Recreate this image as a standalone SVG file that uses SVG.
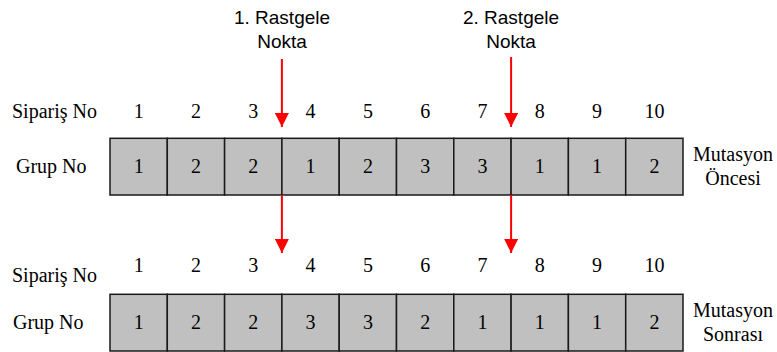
<svg xmlns="http://www.w3.org/2000/svg" width="777" height="352" viewBox="0 0 777 352">
  <style>
    .cell { fill: #c0c0c0; stroke: #1a1a1a; stroke-width: 1.5; }
    .serif { font-family: "Liberation Serif", "Times New Roman", serif; font-size: 20px; fill: #000; }
    .num { text-anchor: middle; }
    .sans { font-family: "Liberation Sans", Arial, sans-serif; font-size: 19px; fill: #000; text-anchor: middle; }
    .arrow { stroke: #ff0000; stroke-width: 2; fill: none; }
  </style>
  <defs>
    <marker id="redHead" viewBox="0 0 14 14" markerWidth="14" markerHeight="14" refX="14" refY="7" orient="auto" markerUnits="userSpaceOnUse">
      <path d="M0,0 L14,7 L0,14 Z" fill="#ff0000"/>
    </marker>
  </defs>

  <!-- cut point labels -->
  <g id="label-point1">
    <text class="sans" x="282" y="24">1. Rastgele</text>
    <text class="sans" x="282" y="48">Nokta</text>
  </g>
  <g id="label-point2">
    <text class="sans" x="511" y="24">2. Rastgele</text>
    <text class="sans" x="511" y="48">Nokta</text>
  </g>

  <!-- before mutation -->
  <g id="row-before">
    <text class="serif" x="12" y="118">Sipariş No</text>
    <text class="serif" x="16" y="173">Grup No</text>
    <g class="serif num">
      <text x="138.7" y="118">1</text>
      <text x="196" y="118">2</text>
      <text x="253.3" y="118">3</text>
      <text x="310.6" y="118">4</text>
      <text x="367.9" y="118">5</text>
      <text x="425.2" y="118">6</text>
      <text x="482.5" y="118">7</text>
      <text x="539.8" y="118">8</text>
      <text x="597.1" y="118">9</text>
      <text x="654.4" y="118">10</text>
    </g>
    <g>
      <rect class="cell" x="110" y="138.3" width="57.3" height="56.7"/>
      <rect class="cell" x="167.3" y="138.3" width="57.3" height="56.7"/>
      <rect class="cell" x="224.6" y="138.3" width="57.3" height="56.7"/>
      <rect class="cell" x="281.9" y="138.3" width="57.3" height="56.7"/>
      <rect class="cell" x="339.2" y="138.3" width="57.3" height="56.7"/>
      <rect class="cell" x="396.5" y="138.3" width="57.3" height="56.7"/>
      <rect class="cell" x="453.8" y="138.3" width="57.3" height="56.7"/>
      <rect class="cell" x="511.1" y="138.3" width="57.3" height="56.7"/>
      <rect class="cell" x="568.4" y="138.3" width="57.3" height="56.7"/>
      <rect class="cell" x="625.7" y="138.3" width="57.3" height="56.7"/>
    </g>
    <g class="serif num">
      <text x="138.7" y="173">1</text>
      <text x="196" y="173">2</text>
      <text x="253.3" y="173">2</text>
      <text x="310.6" y="173">1</text>
      <text x="367.9" y="173">2</text>
      <text x="425.2" y="173">3</text>
      <text x="482.5" y="173">3</text>
      <text x="539.8" y="173">1</text>
      <text x="597.1" y="173">1</text>
      <text x="654.4" y="173">2</text>
    </g>
    <text class="serif num" x="733" y="161">Mutasyon</text>
    <text class="serif num" x="733" y="185">Öncesi</text>
  </g>

  <!-- after mutation -->
  <g id="row-after">
    <text class="serif" x="12" y="282">Sipariş No</text>
    <text class="serif" x="13" y="329">Grup No</text>
    <g class="serif num">
      <text x="138.7" y="272">1</text>
      <text x="196" y="272">2</text>
      <text x="253.3" y="272">3</text>
      <text x="310.6" y="272">4</text>
      <text x="367.9" y="272">5</text>
      <text x="425.2" y="272">6</text>
      <text x="482.5" y="272">7</text>
      <text x="539.8" y="272">8</text>
      <text x="597.1" y="272">9</text>
      <text x="654.4" y="272">10</text>
    </g>
    <g>
      <rect class="cell" x="110" y="294.3" width="57.3" height="56.7"/>
      <rect class="cell" x="167.3" y="294.3" width="57.3" height="56.7"/>
      <rect class="cell" x="224.6" y="294.3" width="57.3" height="56.7"/>
      <rect class="cell" x="281.9" y="294.3" width="57.3" height="56.7"/>
      <rect class="cell" x="339.2" y="294.3" width="57.3" height="56.7"/>
      <rect class="cell" x="396.5" y="294.3" width="57.3" height="56.7"/>
      <rect class="cell" x="453.8" y="294.3" width="57.3" height="56.7"/>
      <rect class="cell" x="511.1" y="294.3" width="57.3" height="56.7"/>
      <rect class="cell" x="568.4" y="294.3" width="57.3" height="56.7"/>
      <rect class="cell" x="625.7" y="294.3" width="57.3" height="56.7"/>
    </g>
    <g class="serif num">
      <text x="138.7" y="329">1</text>
      <text x="196" y="329">2</text>
      <text x="253.3" y="329">2</text>
      <text x="310.6" y="329">3</text>
      <text x="367.9" y="329">3</text>
      <text x="425.2" y="329">2</text>
      <text x="482.5" y="329">1</text>
      <text x="539.8" y="329">1</text>
      <text x="597.1" y="329">1</text>
      <text x="654.4" y="329">2</text>
    </g>
    <text class="serif num" x="733" y="317">Mutasyon</text>
    <text class="serif num" x="733" y="341">Sonrası</text>
  </g>

  <!-- cut point arrows -->
  <g id="connectors">
    <line class="arrow" x1="281.9" y1="59" x2="281.9" y2="127" marker-end="url(#redHead)"/>
    <line class="arrow" x1="511.1" y1="57" x2="511.1" y2="127" marker-end="url(#redHead)"/>
    <line class="arrow" x1="281.9" y1="195" x2="281.9" y2="253" marker-end="url(#redHead)"/>
    <line class="arrow" x1="511.1" y1="195" x2="511.1" y2="253" marker-end="url(#redHead)"/>
  </g>
</svg>
